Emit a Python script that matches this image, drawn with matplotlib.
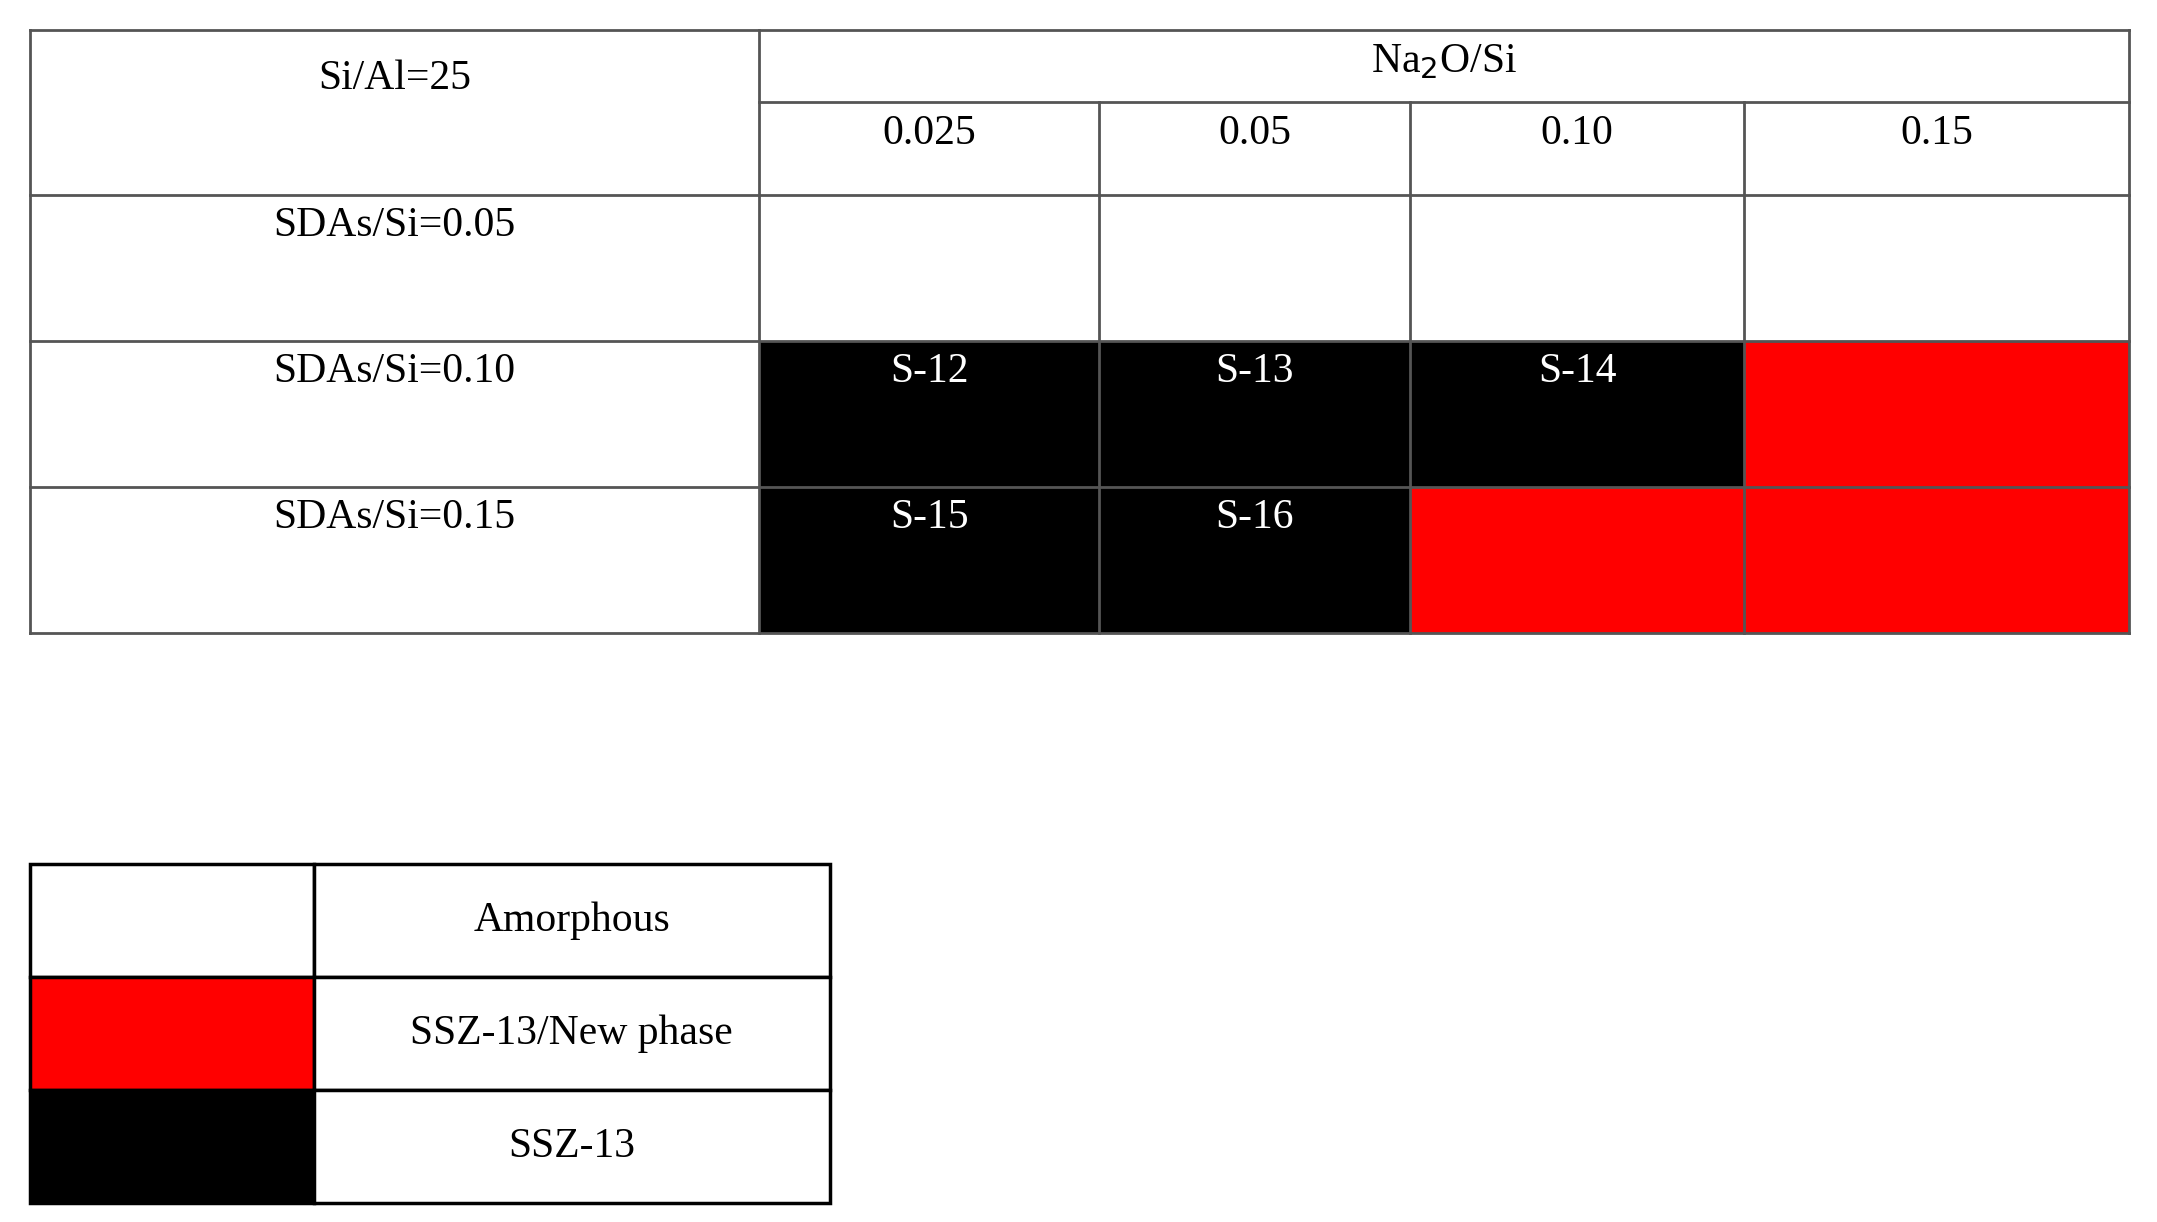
import matplotlib.pyplot as plt
from matplotlib.patches import Rectangle

plt.rcParams['font.family'] = ['Liberation Serif', 'DejaVu Serif']

# data
na2o_si = ["0.025", "0.05", "0.10", "0.15"]
sda_rows = ["SDAs/Si=0.05", "SDAs/Si=0.10", "SDAs/Si=0.15"]
phases = [["A", "A", "A", "A"],
          ["S", "S", "S", "N"],
          ["S", "S", "N", "N"]]
samples = [["", "", "", ""],
           ["S-12", "S-13", "S-14", ""],
           ["S-15", "S-16", "", ""]]
legend_labels = ["Amorphous", "SSZ-13/New phase", "SSZ-13"]
legend_keys = ["A", "N", "S"]
colors = {"A": "white", "N": "#ff0000", "S": "black"}

# layout (pixel units of a 1568 x 888 canvas)
col_x = [22, 552, 799, 1025, 1268, 1548]
row_y = [22, 74, 142, 248, 354, 460]
leg_x = [22, 228, 603]
leg_y = [628, 710, 792, 874]
fs = 30
lc = "#555555"

fig = plt.figure(figsize=(21.57, 12.22), dpi=100)
ax = fig.add_axes([0, 0, 1, 1])
ax.set_xlim(0, 1568)
ax.set_ylim(888, 0)
ax.axis("off")

# colored cells
for i in range(len(sda_rows)):
    y0, y1 = row_y[i + 2], row_y[i + 3]
    for j in range(len(na2o_si)):
        x0, x1 = col_x[j + 1], col_x[j + 2]
        ax.add_patch(Rectangle((x0, y0), x1 - x0, y1 - y0,
                               facecolor=colors[phases[i][j]], edgecolor="none"))
        if samples[i][j]:
            ax.text((x0 + x1) / 2, y0 + 22, samples[i][j], color="white",
                    ha="center", va="center", fontsize=fs)
    ax.text((col_x[0] + col_x[1]) / 2, y0 + 22, sda_rows[i],
            ha="center", va="center", fontsize=fs)

# headers
ax.text((col_x[0] + col_x[1]) / 2, 57, "Si/Al=25", ha="center", va="center", fontsize=fs)
ax.text((col_x[1] + col_x[-1]) / 2, 45, r"Na$_2$O/Si", ha="center", va="center", fontsize=fs)
plt.rcParams['mathtext.fontset'] = 'stix'
for j, v in enumerate(na2o_si):
    ax.text((col_x[j + 1] + col_x[j + 2]) / 2, 97, v, ha="center", va="center", fontsize=fs)

# grid lines
for y in [row_y[0], row_y[2], row_y[3], row_y[4], row_y[5]]:
    ax.plot([col_x[0], col_x[-1]], [y, y], color=lc, lw=2)
ax.plot([col_x[1], col_x[-1]], [row_y[1], row_y[1]], color=lc, lw=2)
ax.plot([col_x[0], col_x[0]], [row_y[0], row_y[-1]], color=lc, lw=2)
ax.plot([col_x[-1], col_x[-1]], [row_y[0], row_y[-1]], color=lc, lw=2)
ax.plot([col_x[1], col_x[1]], [row_y[0], row_y[-1]], color=lc, lw=2)
for x in col_x[2:-1]:
    ax.plot([x, x], [row_y[1], row_y[-1]], color=lc, lw=2)

# legend table
for k, (lab, key) in enumerate(zip(legend_labels, legend_keys)):
    y0, y1 = leg_y[k], leg_y[k + 1]
    ax.add_patch(Rectangle((leg_x[0], y0), leg_x[1] - leg_x[0], y1 - y0,
                           facecolor=colors[key], edgecolor="black", lw=2.5))
    ax.add_patch(Rectangle((leg_x[1], y0), leg_x[2] - leg_x[1], y1 - y0,
                           facecolor="white", edgecolor="black", lw=2.5))
    ax.text((leg_x[1] + leg_x[2]) / 2, (y0 + y1) / 2, lab,
            ha="center", va="center", fontsize=fs)

fig.savefig("out.png", dpi=100)
